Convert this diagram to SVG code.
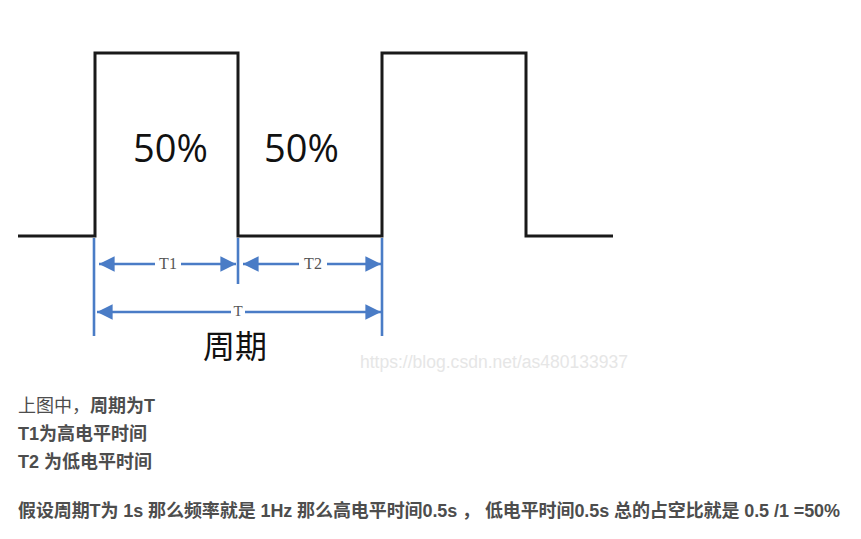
<svg xmlns="http://www.w3.org/2000/svg" width="861" height="539" viewBox="0 0 861 539">
<style>
.wave{fill:none;stroke:#1a1a1a;stroke-width:3;stroke-linejoin:miter}
.dim{stroke:#4a7cc6;stroke-width:2.6;fill:none}
.lbl{font-family:"Liberation Serif",serif;font-size:16px;fill:#555;text-anchor:middle}
.big{font-family:"Open Sans","Noto Sans",sans-serif;font-size:38px;fill:#111}
.txt{font-family:"Liberation Sans","Noto Sans CJK SC",sans-serif;font-size:18px;fill:#4d4d4d}
.b{font-weight:bold}
</style>
<defs>
<marker id="ah" viewBox="0 0 10 10" refX="10" refY="5" markerWidth="7" markerHeight="6" markerUnits="strokeWidth" orient="auto-start-reverse">
<path d="M0,0 L10,5 L0,10 Z" fill="#4a7cc6"/>
</marker>
</defs>
<rect width="861" height="539" fill="#fff"/>
<g id="waveform">
<path class="wave" d="M18,236 H95 V53 H238 V236 H382 V53 H526 V236 H613"/>
</g>
<g id="labels-duty">
<text class="big" x="133" y="162">50%</text>
<text class="big" x="264" y="162">50%</text>
</g>
<g id="connectors">
<line class="dim" x1="94" y1="238" x2="94" y2="336"/>
<line class="dim" x1="238" y1="238" x2="238" y2="284"/>
<line class="dim" x1="382" y1="238" x2="382" y2="336"/>
<line class="dim" x1="99" y1="264" x2="155" y2="264" marker-start="url(#ah)"/>
<line class="dim" x1="181" y1="264" x2="236" y2="264" marker-end="url(#ah)"/>
<line class="dim" x1="243" y1="264" x2="299" y2="264" marker-start="url(#ah)"/>
<line class="dim" x1="327" y1="264" x2="381" y2="264" marker-end="url(#ah)"/>
<line class="dim" x1="97" y1="312" x2="231" y2="312" marker-start="url(#ah)"/>
<line class="dim" x1="245" y1="312" x2="381" y2="312" marker-end="url(#ah)"/>
</g>
<g id="dim-labels">
<text class="lbl" x="168" y="269">T1</text>
<text class="lbl" x="313" y="269">T2</text>
<text class="lbl" x="238" y="316" style="font-size:15px">T</text>
<text x="235" y="358" text-anchor="middle" style="font-family:'Noto Sans CJK SC',sans-serif;font-size:32px;fill:#111">周期</text>
</g>
<g id="watermark">
<text x="360" y="368" textLength="268" lengthAdjust="spacingAndGlyphs" style="font-family:'Liberation Sans',sans-serif;font-size:18px;fill:#e6e6e6">https://blog.csdn.net/as480133937</text>
</g>
<g id="notes">
<text class="txt" x="18" y="412">上图中，<tspan class="b">周期为T</tspan></text>
<text class="txt b" x="18" y="440">T1为高电平时间</text>
<text class="txt b" x="18" y="468">T2 为低电平时间</text>
<text class="txt b" x="18" y="517" textLength="822" lengthAdjust="spacing">假设周期T为 1s 那么频率就是 1Hz 那么高电平时间0.5s ， 低电平时间0.5s 总的占空比就是 0.5 /1 =50%</text>
</g>
</svg>
